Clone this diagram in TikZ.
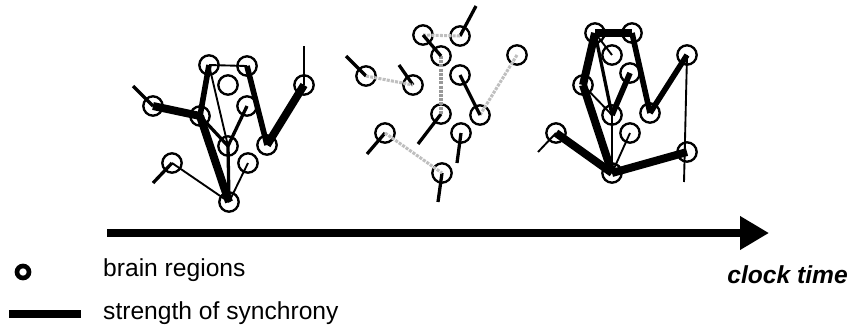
\documentclass[tikz,border=0pt]{standalone}
\usepackage{fontspec}
\setmainfont{Liberation Sans}
\usetikzlibrary{arrows.meta, positioning}

\tikzset{
    region/.style={draw, circle, line width=2pt, minimum size=0.58cm, inner sep=0pt},
    thin link/.style={line width=1.6pt},
    mid link/.style={line width=2.8pt},
    thick link/.style={line width=4.8pt, line join=round},
    heavy link/.style={line width=6.8pt, line join=round},
    faint link/.style={line width=2.6pt, gray!50, densely dotted},
    label text/.style={font=\fontsize{21}{25}\selectfont, inner sep=0pt}
}

\begin{document}
\begin{tikzpicture}[x=0.03cm, y=-0.03cm]
        \useasboundingbox (0,0) rectangle (851,330);
        % first moment: strongly coupled
        \begin{scope}
            \foreach \n/\x/\y in {1/209/65, 2/247/66, 3/228/85, 4/153/106, 5/200/116, 6/247/106,
                7/228/146, 8/267/145, 9/304/85, 10/172/163, 11/248/163, 12/229/202}{
                \node[region] (a\n) at (\x,\y) {};
            }
            \coordinate (a4s) at (133,86);
            \coordinate (a9s) at (304,46);
            \coordinate (a10s) at (153,183);

            \foreach \p/\q in {4/5, 5/12, 8/9}{
                \draw[heavy link] (a\p.center) -- (a\q.center);
            }
            \foreach \p/\q in {5/1, 2/8}{
                \draw[thick link] (a\p.center) -- (a\q.center);
            }
            \foreach \p/\q in {5/7, 7/6, 7/12}{
                \draw[mid link] (a\p.center) -- (a\q.center);
            }
            \foreach \p/\q in {1/2, 1/7, 12/11, 12/10}{
                \draw[thin link] (a\p.center) -- (a\q.center);
            }
            \draw[mid link] (a4.center) -- (a4s);
            \draw[mid link] (a10.center) -- (a10s);
            \draw[thin link] (a9.center) -- (a9s);
        \end{scope}
        % second moment: loosely coupled
        \begin{scope}
            \foreach \n/\x/\y in {1/423/35, 2/460/36, 3/441/56, 4/366/76, 5/413/85, 6/460/75,
                7/517/55, 8/480/115, 9/441/114, 10/461/133, 11/385/133, 12/442/173}{
                \node[region] (b\n) at (\x,\y) {};
            }
            \foreach \n/\x/\y in {2/476/6, 4/346/56, 5/399/65, 9/418/144, 10/457/163, 11/367/154, 12/438/202}{
                \coordinate (b\n s) at (\x,\y);
                \draw[mid link] (b\n.center) -- (b\n s);
            }
            \foreach \p/\q in {1/2, 4/5, 8/7, 11/12}{
                \draw[faint link] (b\p.center) -- (b\q.center);
            }
            \draw[faint link, gray!80] (b3.center) -- (b9.center);
            \foreach \p/\q in {1/3, 6/8}{
                \draw[mid link] (b\p.center) -- (b\q.center);
            }
        \end{scope}
        % third moment: strongly coupled again
        \begin{scope}
            \foreach \n/\x/\y in {1/595/33, 2/632/33, 3/612/55, 4/583/85, 5/630/73, 6/687/55,
                7/612/115, 8/650/113, 9/556/133, 10/630/133, 11/687/152, 12/612/173}{
                \node[region] (c\n) at (\x,\y) {};
            }
            \coordinate (c9s) at (538,152);
            \coordinate (c6s) at (684,182);

            \foreach \p/\q in {1/2, 1/4, 4/12, 12/9, 12/11}{
                \draw[heavy link] (c\p.center) -- (c\q.center);
            }
            \foreach \p/\q in {7/5, 2/8, 8/6}{
                \draw[thick link] (c\p.center) -- (c\q.center);
            }
            \draw[mid link] (c1.center) -- (c7.center);
            \foreach \p/\q in {1/3, 4/7, 7/12, 12/10}{
                \draw[thin link] (c\p.center) -- (c\q.center);
            }
            \draw[thin link] (c9.center) -- (c9s);
            \draw[thin link] (c6.center) -- (c6s);
        \end{scope}
        % time axis
        \coordinate (t0) at (107,233);
        \coordinate (t1) at (769,233);
        \draw[line width=6pt, -{Triangle[length=0.87cm, width=0.96cm]}] (t0) -- (t1);
        \node[label text, anchor=east] (clock) at (848,275) {\bfseries\itshape clock time};
        % legend
        \node[draw, circle, line width=4pt, minimum size=0.36cm, inner sep=0pt] (icon) at (23,272) {};
        \node[label text, anchor=west] (regions) at (103,270) {brain regions};
        \coordinate (l0) at (9,314);
        \coordinate (l1) at (81,314);
        \draw[line width=6pt] (l0) -- (l1);
        \node[label text, anchor=west] (sync) at (103,313) {strength of synchrony};
    \end{tikzpicture}
\end{document}
